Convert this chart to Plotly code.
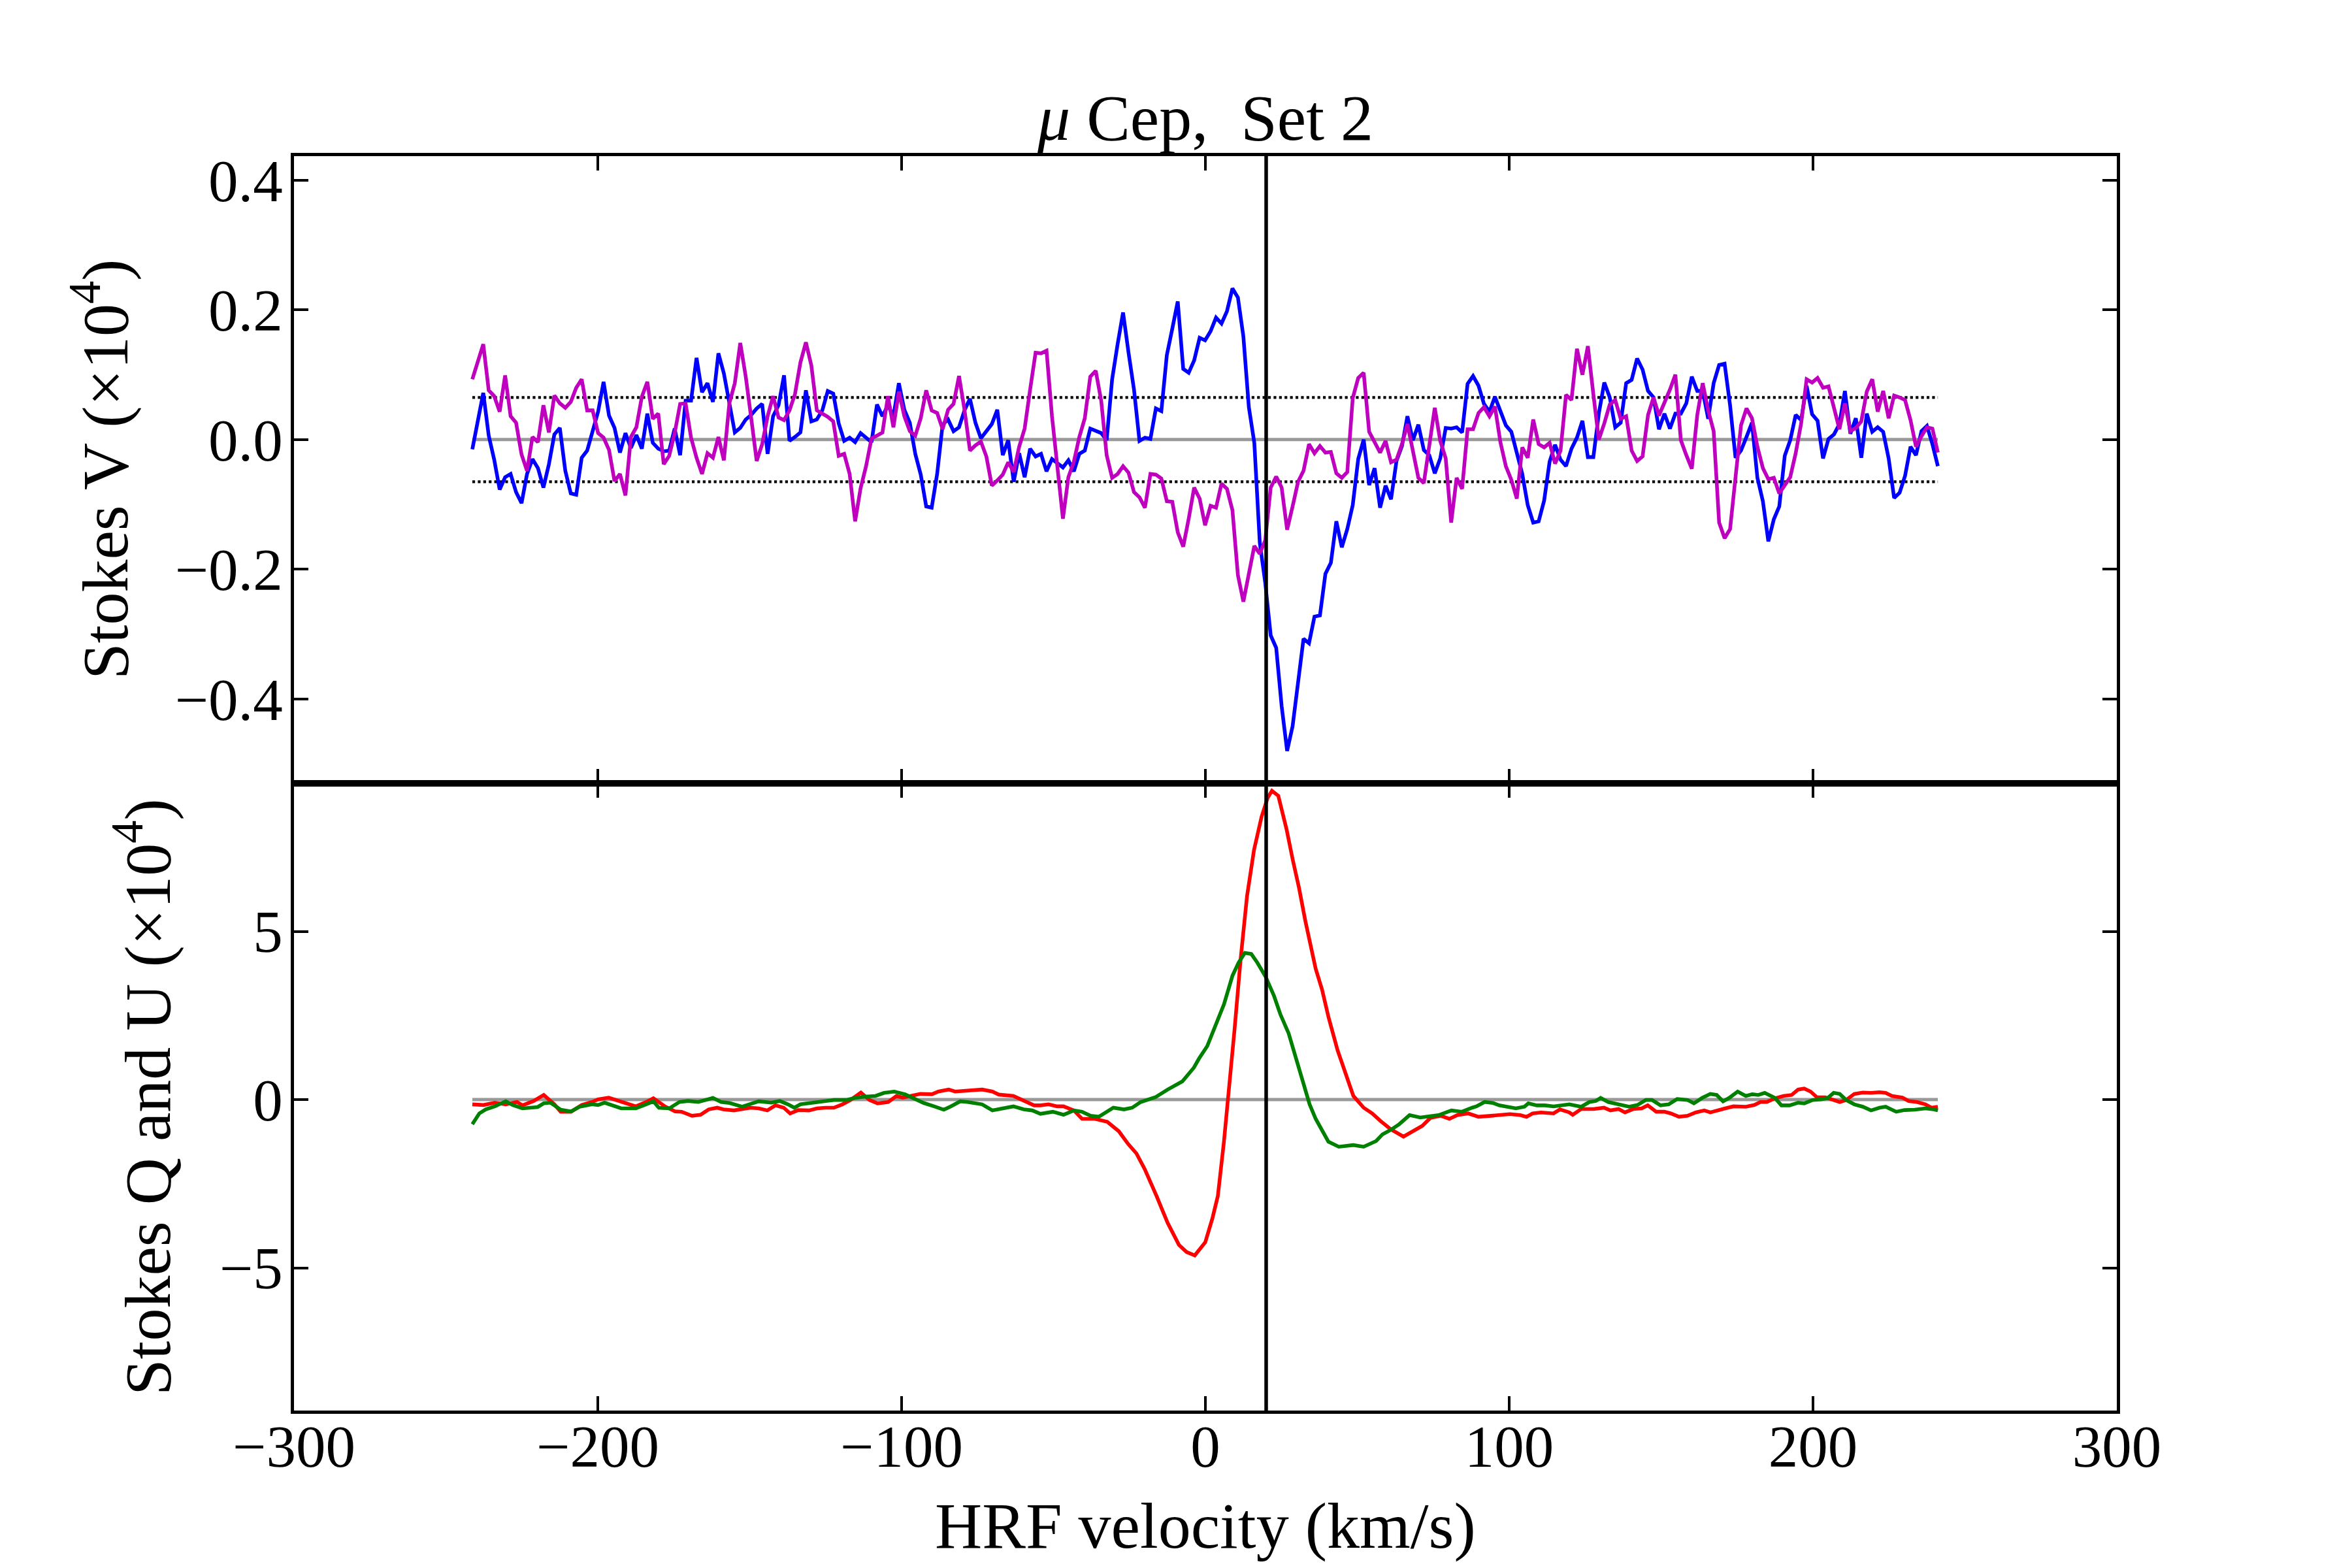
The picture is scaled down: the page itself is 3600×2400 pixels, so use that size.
import numpy as np
import plotly.graph_objects as go

# ---------------- data ----------------
stokes_v_blue = [
    -0.015, 0.028, 0.072, 0.006, -0.031, -0.077, -0.058, -0.053, -0.081, -0.098,
    -0.053, -0.030, -0.044, -0.074, -0.038, 0.008, 0.018, -0.048, -0.083, -0.085,
    -0.028, -0.017, 0.013, 0.043, 0.089, 0.037, 0.018, -0.020, 0.010, -0.013,
    0.007, -0.014, 0.040, -0.005, -0.014, -0.018, -0.017, 0.017, -0.024, 0.060,
    0.060, 0.126, 0.073, 0.087, 0.058, 0.133, 0.102, 0.060, 0.011, 0.018,
    0.031, 0.038, 0.048, 0.055, -0.022, 0.036, 0.053, 0.099, -0.002, 0.004,
    0.011, 0.076, 0.028, 0.031, 0.045, 0.075, 0.071, 0.025, -0.002, 0.003,
    -0.004, 0.010, 0.003, -0.004, 0.054, 0.036, 0.053, 0.036, 0.087, 0.046,
    0.026, -0.022, -0.054, -0.103, -0.105, -0.053, 0.023, 0.031, 0.013, 0.019,
    0.045, 0.063, 0.026, 0.002, 0.013, 0.024, 0.046, -0.024, -0.001, -0.065,
    -0.021, -0.058, -0.014, -0.026, -0.022, -0.049, -0.030, -0.037, -0.043, -0.032,
    -0.049, -0.022, -0.017, 0.017, 0.013, 0.010, -0.001, 0.093, 0.147, 0.196,
    0.134, 0.077, -0.002, 0.003, 0.001, 0.048, 0.044, 0.130, 0.171, 0.213,
    0.109, 0.103, 0.122, 0.157, 0.153, 0.167, 0.188, 0.179, 0.198, 0.233,
    0.219, 0.159, 0.050, -0.005, -0.159, -0.221, -0.302, -0.321, -0.411, -0.480,
    -0.442, -0.378, -0.307, -0.314, -0.273, -0.271, -0.207, -0.190, -0.126, -0.166,
    -0.138, -0.101, -0.030, 0.000, -0.070, -0.044, -0.105, -0.071, -0.092, -0.033,
    -0.010, 0.036, -0.001, 0.023, -0.016, -0.024, -0.052, -0.029, 0.018, 0.017,
    0.019, 0.011, 0.086, 0.098, 0.083, 0.055, 0.043, 0.066, 0.043, 0.022,
    0.012, -0.021, -0.053, -0.101, -0.128, -0.126, -0.094, -0.034, -0.008, -0.031,
    -0.041, -0.014, 0.003, 0.029, -0.027, -0.027, 0.040, 0.088, 0.065, 0.019,
    0.026, 0.087, 0.092, 0.125, 0.108, 0.075, 0.065, 0.016, 0.040, 0.017,
    0.040, 0.040, 0.056, 0.097, 0.075, 0.075, 0.032, 0.087, 0.115, 0.117,
    0.053, -0.028, -0.017, 0.004, 0.026, -0.059, -0.095, -0.157, -0.123, -0.103,
    -0.025, -0.001, 0.038, 0.030, 0.083, 0.039, 0.029, -0.029, 0.001, 0.008,
    0.024, 0.075, 0.009, 0.033, -0.028, 0.040, 0.012, 0.019, 0.012, -0.029,
    -0.090, -0.082, -0.056, -0.011, -0.024, 0.013, 0.021, -0.007, -0.041,
]

stokes_v_magenta = [
    0.093, 0.120, 0.147, 0.076, 0.067, 0.043, 0.099, 0.036, 0.026, -0.023,
    -0.048, 0.004, -0.004, 0.053, 0.011, 0.068, 0.056, 0.049, 0.058, 0.080,
    0.093, 0.045, 0.045, 0.010, 0.003, -0.016, -0.064, -0.053, -0.086, 0.004,
    0.019, 0.066, 0.089, 0.032, 0.040, -0.038, -0.025, 0.010, 0.055, 0.056,
    0.003, -0.028, -0.053, -0.021, -0.028, 0.004, -0.032, 0.056, 0.087, 0.149,
    0.097, 0.033, -0.033, -0.007, 0.036, 0.067, 0.034, 0.030, 0.045, 0.070,
    0.119, 0.150, 0.114, 0.045, 0.040, 0.035, 0.028, -0.025, -0.022, -0.053,
    -0.126, -0.075, -0.041, 0.002, 0.006, 0.011, 0.067, 0.019, 0.074, 0.036,
    0.013, 0.006, 0.033, 0.076, 0.045, 0.041, 0.016, 0.046, 0.055, 0.098,
    0.046, -0.017, -0.009, -0.003, -0.026, -0.071, -0.063, -0.054, -0.035, -0.050,
    -0.011, 0.017, 0.077, 0.134, 0.133, 0.137, 0.036, -0.048, -0.122, -0.058,
    -0.034, 0.004, 0.033, 0.097, 0.106, 0.060, -0.024, -0.059, -0.053, -0.041,
    -0.051, -0.081, -0.089, -0.105, -0.053, -0.054, -0.060, -0.095, -0.096, -0.143,
    -0.165, -0.122, -0.074, -0.091, -0.132, -0.102, -0.105, -0.068, -0.076, -0.109,
    -0.209, -0.250, -0.209, -0.164, -0.176, -0.155, -0.074, -0.057, -0.074, -0.139,
    -0.103, -0.065, -0.048, -0.007, -0.021, -0.010, -0.020, -0.019, -0.052, -0.059,
    -0.050, 0.064, 0.095, 0.103, 0.012, -0.005, -0.020, -0.002, -0.035, -0.031,
    -0.007, 0.024, -0.021, -0.059, -0.067, -0.010, 0.049, -0.002, -0.029, -0.128,
    -0.059, -0.076, 0.016, 0.016, 0.041, 0.050, 0.036, 0.051, -0.004, -0.041,
    -0.062, -0.091, -0.012, -0.028, 0.031, -0.007, -0.012, -0.005, -0.037, -0.017,
    0.069, 0.061, 0.140, 0.100, 0.144, 0.070, 0.000, 0.025, 0.054, 0.061,
    0.032, 0.036, -0.017, -0.033, -0.026, 0.038, 0.065, 0.037, 0.056, 0.077,
    0.100, -0.001, -0.024, -0.045, 0.038, 0.087, 0.045, 0.013, -0.128, -0.152,
    -0.138, -0.061, 0.022, 0.048, 0.033, -0.011, -0.044, -0.061, -0.059, -0.083,
    -0.070, -0.058, -0.021, 0.025, 0.093, 0.088, 0.095, 0.080, 0.082, 0.050,
    0.016, 0.056, 0.013, 0.018, 0.028, 0.074, 0.093, 0.043, 0.075, 0.033,
    0.068, 0.065, 0.061, 0.030, -0.011, 0.005, 0.019, 0.017, -0.020,
]

# LSD velocity grid (km/s) of the Stokes V profiles
v_start, v_step = -241.3, 1.8
vel_v = np.round(v_start + v_step * np.arange(len(stokes_v_blue)), 2)

# Stokes Q (red): velocity, value
vel_q = [
    -241.3, -237.6, -233.9, -230.3, -226.6, -224.8, -221.1, -217.8, -214.3, -212.2,
    -208.8, -205.3, -201.9, -199.9, -196.4, -193.0, -189.6, -187.5, -184.1, -181.7,
    -177.9, -174.5, -172.4, -169.0, -166.2, -163.5, -160.7, -158.7, -155.2, -152.5,
    -149.7, -147.0, -144.2, -141.5, -138.8, -136.7, -134.0, -130.5, -127.8, -125.0,
    -122.3, -119.5, -116.8, -113.4, -110.6, -107.9, -104.4, -101.7, -99.6,
    -93.8, -90.0, -87.9, -84.5, -82.4, -77.6, -73.5, -70.1, -68.0, -63.2,
    -58.4, -56.4, -54.3, -51.6, -48.8, -46.7, -43.3, -40.6, -36.4, -32.3,
    -28.5, -25.5, -22.7, -20.0, -16.1, -12.4, -8.7, -6.2, -3.5, -0.05,
    2.3, 4.1, 6.1, 7.5, 9.6, 11.6, 13.7, 16.0, 18.5, 20.5,
    21.9, 24.0, 26.7, 28.8, 30.8, 32.9, 34.3, 36.3, 38.4, 40.5,
    43.5, 45.9, 48.7, 52.1, 54.9, 57.6, 61.0, 65.2, 67.9, 71.4,
    74.1, 77.5, 80.3, 83.0, 86.5, 89.9, 94.0, 96.7, 100.2, 103.6,
    105.7, 107.7, 110.5, 114.6, 116.7, 119.8,
    120.9, 123.7, 127.8, 131.2, 133.3, 136.0, 138.1, 140.8, 143.6, 145.6,
    148.4, 151.1, 153.2, 155.9, 158.7, 161.4, 164.2, 166.2, 168.3, 171.1,
    173.8, 177.9, 180.7, 182.7, 184.8, 187.5, 190.3, 193.0, 195.1, 197.1,
    199.2, 201.3, 204.0, 206.8, 208.8, 210.9, 213.6, 216.4, 219.1, 221.9,
    223.9, 226.0, 229.4, 231.5, 234.2, 237.0, 239.0, 241.1,
]
stokes_q = [
    -0.14, -0.16, -0.09, -0.14, -0.07, -0.17, -0.04, 0.14, -0.14, -0.36,
    -0.36, -0.16, -0.07, 0.01, 0.06, -0.04, -0.14, -0.20, -0.07, 0.04,
    -0.20, -0.35, -0.36, -0.48, -0.45, -0.29, -0.24, -0.29, -0.32, -0.29,
    -0.24, -0.26, -0.32, -0.17, -0.24, -0.41, -0.31, -0.32, -0.26, -0.24,
    -0.24, -0.14, -0.01, 0.21, -0.01, -0.11, -0.07, 0.11, 0.06,
    0.17, 0.16, 0.24, 0.30, 0.24, 0.26, 0.30, 0.24, 0.15, 0.11,
    -0.07, -0.17, -0.17, -0.14, -0.20, -0.20, -0.32, -0.57, -0.57, -0.66,
    -0.94, -1.31, -1.60, -2.06, -2.86, -3.67, -4.32, -4.53, -4.63, -4.24,
    -3.53, -2.86, -1.25, -0.01, 2.09, 4.18, 6.05, 7.42, 8.41, 8.97,
    9.18, 9.03, 8.04, 7.11, 6.30, 5.31, 4.69, 3.89, 3.27, 2.46,
    1.47, 0.85, 0.11, -0.24, -0.41, -0.63, -0.88, -1.10, -0.95, -0.78,
    -0.54, -0.48, -0.57, -0.46, -0.41, -0.51, -0.48, -0.46, -0.43, -0.46,
    -0.51, -0.41, -0.38, -0.41, -0.29, -0.38,
    -0.45, -0.28, -0.28, -0.24, -0.32, -0.28, -0.38, -0.28, -0.26, -0.17,
    -0.36, -0.36, -0.41, -0.51, -0.48, -0.38, -0.32, -0.38, -0.32, -0.26,
    -0.20, -0.21, -0.16, -0.07, -0.07, 0.04, 0.11, 0.14, 0.30, 0.33,
    0.24, 0.07, 0.07, -0.01, -0.07, -0.01, 0.17, 0.21, 0.20, 0.22,
    0.20, 0.11, 0.06, -0.04, -0.07, -0.14, -0.24, -0.21,
]

# Stokes U (green): velocity, value
vel_u = [
    -241.3, -239.0, -236.9, -233.9, -230.3, -228.0, -224.8, -219.8, -217.8, -215.6,
    -212.2, -208.8, -206.0, -201.9, -199.9, -197.8, -192.3, -187.5, -184.1, -181.7,
    -179.9, -176.5, -173.1, -170.3, -166.9, -162.1, -159.4, -156.6, -152.5, -149.7,
    -147.0, -142.9, -140.1, -137.4, -135.3, -133.3, -129.1, -125.0, -122.3, -118.2,
    -115.4, -112.0, -108.6, -105.8, -102.4, -98.9,
    -95.5, -92.7, -89.3, -86.1, -83.8, -80.7, -78.3, -75.6, -73.5, -70.1,
    -66.7, -63.2, -59.8, -57.0, -54.3, -50.2, -46.7, -43.3, -40.6, -37.8,
    -35.1, -32.3, -30.3, -26.8, -24.1, -21.3, -16.5, -12.4, -7.6, -3.8,
    -2.1, 0.6, 3.4, 6.1, 8.9, 10.9, 13.0, 15.1, 17.1, 19.9,
    22.6, 24.7, 27.4, 28.8, 30.8, 32.9, 34.3, 36.3, 38.4, 40.5,
    43.9, 48.7, 52.1, 56.2, 58.3, 61.0, 63.8, 67.2, 70.7, 73.4,
    76.8, 81.0, 84.4, 87.8, 89.2, 91.9, 94.7, 96.7, 99.5, 102.2,
    105.0, 106.3, 109.1, 111.8, 114.6, 117.3, 119.8,
    123.7, 126.4, 128.5, 130.1, 132.6, 136.0, 139.5, 142.2, 145.0, 147.0,
    149.8, 152.5, 155.3, 158.7, 160.8, 163.5, 166.2, 168.3, 170.4, 172.4,
    175.2, 177.9, 180.0, 182.0, 184.1, 187.5, 189.6, 192.3, 195.1, 197.1,
    199.9, 202.6, 204.7, 206.8, 208.8, 210.9, 213.6, 216.4, 219.1, 221.9,
    223.9, 227.4, 230.1, 233.5, 237.0, 239.7, 241.1,
]
stokes_u = [
    -0.73, -0.41, -0.29, -0.20, -0.05, -0.16, -0.26, -0.22, -0.11, -0.09,
    -0.30, -0.35, -0.21, -0.14, -0.16, -0.09, -0.26, -0.26, -0.14, -0.05,
    -0.24, -0.26, -0.07, -0.04, -0.07, 0.05, -0.07, -0.10, -0.21, -0.14,
    -0.05, -0.09, -0.04, -0.14, -0.24, -0.14, -0.10, -0.05, -0.01, -0.01,
    0.05, 0.09, 0.11, 0.20, 0.24, 0.16,
    0.01, -0.10, -0.20, -0.30, -0.20, -0.05, -0.07, -0.11, -0.14, -0.32,
    -0.26, -0.20, -0.29, -0.32, -0.42, -0.36, -0.45, -0.32, -0.36, -0.48,
    -0.51, -0.36, -0.24, -0.29, -0.24, -0.07, 0.07, 0.30, 0.54, 0.95,
    1.22, 1.59, 2.24, 2.83, 3.68, 4.07, 4.36, 4.33, 4.07, 3.64,
    3.08, 2.53, 1.97, 1.53, 0.95, 0.24, -0.14, -0.57, -0.90, -1.25,
    -1.40, -1.35, -1.40, -1.23, -1.03, -0.90, -0.73, -0.46, -0.53, -0.51,
    -0.46, -0.32, -0.36, -0.24, -0.20, -0.07, -0.10, -0.17, -0.21, -0.26,
    -0.21, -0.11, -0.17, -0.17, -0.20, -0.17, -0.14,
    -0.21, -0.07, -0.04, 0.05, -0.07, -0.14, -0.21, -0.16, -0.01, -0.01,
    -0.17, -0.14, 0.02, -0.01, -0.11, 0.05, 0.17, 0.14, -0.05, 0.05,
    0.24, 0.11, 0.16, 0.14, 0.20, 0.05, -0.17, -0.17, -0.09, -0.11,
    -0.01, 0.01, 0.04, 0.20, 0.17, -0.01, -0.14, -0.21, -0.32, -0.24,
    -0.21, -0.36, -0.31, -0.30, -0.26, -0.29, -0.32,
]

sigma_v = 0.065          # +/- noise level in Stokes V (dotted lines)
v_rad = 20.0             # stellar radial velocity (vertical line)
x_ticks = [-300, -200, -100, 0, 100, 200, 300]
v_ticks = [-0.4, -0.2, 0.0, 0.2, 0.4]
qu_ticks = [-5, 0, 5]

def fmt(v, nd):
    s = f"{abs(v):.{nd}f}"
    return ("\u2212" + s) if v < 0 else s

# ---------------- figure ----------------
FONT = "Liberation Serif"
TICK_SIZE = 91
TITLE_SIZE = 100
LW = 5.6
fig = go.Figure()
vmin, vmax = float(vel_v[0]), float(vel_v[-1])

# top panel (Stokes V)
fig.add_trace(go.Scatter(x=[vmin, vmax], y=[0, 0], mode="lines",
                         line=dict(color="#999999", width=5), xaxis="x2", yaxis="y2"))
for s in (sigma_v, -sigma_v):
    fig.add_trace(go.Scatter(x=[vmin, vmax], y=[s, s], mode="lines",
                             line=dict(color="black", width=4.2, dash="dot"),
                             xaxis="x2", yaxis="y2"))
fig.add_trace(go.Scatter(x=vel_v, y=stokes_v_blue, mode="lines",
                         line=dict(color="#0000ff", width=LW), xaxis="x2", yaxis="y2"))
fig.add_trace(go.Scatter(x=vel_v, y=stokes_v_magenta, mode="lines",
                         line=dict(color="#bf00bf", width=LW), xaxis="x2", yaxis="y2"))

# bottom panel (Stokes Q, U)
fig.add_trace(go.Scatter(x=[vmin, vmax], y=[0, 0], mode="lines",
                         line=dict(color="#999999", width=5), xaxis="x", yaxis="y"))
fig.add_trace(go.Scatter(x=vel_q, y=stokes_q, mode="lines",
                         line=dict(color="#ff0000", width=LW), xaxis="x", yaxis="y"))
fig.add_trace(go.Scatter(x=vel_u, y=stokes_u, mode="lines",
                         line=dict(color="#008000", width=LW), xaxis="x", yaxis="y"))

fig.add_shape(type="line", xref="x", yref="paper", x0=v_rad, x1=v_rad, y0=0, y1=1,
              line=dict(color="black", width=5.5), layer="above")

axis_common = dict(showline=True, linecolor="black", linewidth=5, mirror="allticks",
                   ticks="inside", ticklen=22, tickwidth=3.5, tickcolor="black",
                   showgrid=False, zeroline=False,
                   tickfont=dict(family=FONT, size=TICK_SIZE, color="black"))

fig.update_layout(
    width=3600, height=2400,
    margin=dict(l=450, r=360, t=239, b=241),
    paper_bgcolor="white", plot_bgcolor="white",
    showlegend=False,
    xaxis=dict(domain=[0, 1], range=[-300, 300], anchor="y",
               tickvals=x_ticks, ticktext=[fmt(t, 0) for t in x_ticks],
               ticklabelstandoff=-28, **axis_common),
    xaxis2=dict(domain=[0, 1], range=[-300, 300], anchor="y2", matches="x",
                tickvals=x_ticks, showticklabels=False, **axis_common),
    yaxis=dict(domain=[0, 0.5], range=[-9.24, 9.40], anchor="x",
               tickvals=qu_ticks, ticktext=[fmt(t, 0) for t in qu_ticks],
               ticklabelstandoff=-6, **axis_common),
    yaxis2=dict(domain=[0.5, 1], range=[-0.530, 0.437], anchor="x2",
                tickvals=v_ticks, ticktext=[fmt(t, 1) for t in v_ticks],
                ticklabelstandoff=-6, **axis_common),
    title=dict(text="<i>\u03bc</i> Cep,  Set 2", x=(450 + 3240) / 2 / 3600, xanchor="center",
               y=1 - 179 / 2400, yref="container", yanchor="middle",
               font=dict(family=FONT, size=TITLE_SIZE, color="black")),
)

ph = 1920.0
fig.add_annotation(text="HRF velocity (km/s)", xref="paper", yref="paper",
                   x=0.5, y=(2159 - 2335) / ph, xanchor="center", yanchor="middle",
                   showarrow=False, font=dict(family=FONT, size=TITLE_SIZE, color="black"))
fig.add_annotation(text="Stokes V (\u00d710<sup>4</sup>)", xref="paper", yref="paper",
                   x=(154 - 450) / 2790, y=0.75, xanchor="center", yanchor="middle",
                   textangle=-90, showarrow=False,
                   font=dict(family=FONT, size=TITLE_SIZE, color="black"))
fig.add_annotation(text="Stokes Q and U (\u00d710<sup>4</sup>)", xref="paper", yref="paper",
                   x=(219 - 450) / 2790, y=0.25, xanchor="center", yanchor="middle",
                   textangle=-90, showarrow=False,
                   font=dict(family=FONT, size=TITLE_SIZE, color="black"))

fig.write_html("out.html")
